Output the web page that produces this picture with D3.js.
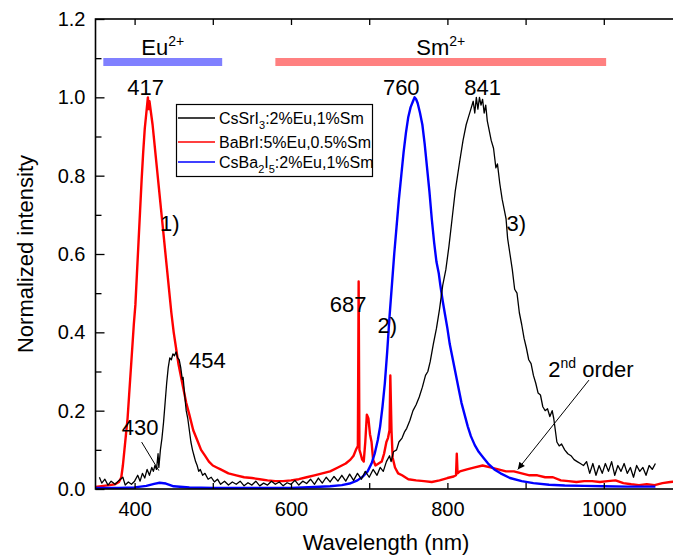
<!DOCTYPE html>
<html><head><meta charset="utf-8">
<script src="https://cdn.jsdelivr.net/npm/d3@7"></script>
<style>
body{margin:0;background:#fff;overflow:hidden}
svg{display:block;font-family:"Liberation Sans",Arial,Helvetica,sans-serif}
</style>
</head><body>
<svg id="chart" width="673" height="555"></svg>
<script>
// ---- data ----
const xMajorTicks = [400, 600, 800, 1000];
const xMinorTicks = [500, 700, 900, 1100];
const yMajorTicks = [0, 0.2, 0.4, 0.6, 0.8, 1.0, 1.2];
const yMinorTicks = [0.1, 0.3, 0.5, 0.7, 0.9, 1.1];

const seriesNames = ["CsSrI3:2%Eu,1%Sm", "BaBrI:5%Eu,0.5%Sm", "CsBa2I5:2%Eu,1%Sm"];
const seriesColors = ["#000000", "#ff0000", "#0000ff"];

// CsSrI3:2%Eu,1%Sm  [wavelength nm, normalized intensity]
const csSrI3 = [
[355,0.03],[358,0.015],[362,0.025],[366,0.01],[370,0.02],[375,0.012],[380,0.022],[385,0.03],[388,0.01],[392,0.018],
[396,0.012],[400,0.02],[404,0.035],[407,0.02],[410,0.04],[413,0.028],[416,0.05],[419,0.035],[422,0.055],[424,0.045],
[426,0.06],[428,0.05],[430,0.09],[431,0.055],[433,0.1],[435,0.13],[437,0.17],[439,0.22],[441,0.27],[443,0.31],
[445,0.335],[447,0.33],[449,0.345],[451,0.34],[453,0.35],[455,0.335],[457,0.33],[459,0.31],[461,0.28],[462,0.285],
[464,0.24],[466,0.2],[468,0.18],[470,0.15],[472,0.12],[474,0.1],[476,0.085],[478,0.07],[480,0.06],[482,0.045],
[484,0.05],[487,0.035],[490,0.04],[494,0.025],[498,0.03],[502,0.018],[506,0.025],[510,0.012],[515,0.02],[520,0.01],
[525,0.018],[530,0.012],[535,0.02],[540,0.008],[545,0.016],[550,0.01],[555,0.02],[560,0.008],[565,0.015],[570,0.01],
[575,0.02],[580,0.012],[585,0.018],[590,0.008],[595,0.016],[600,0.012],[605,0.022],[610,0.01],[615,0.02],[620,0.014],
[625,0.025],[630,0.012],[635,0.028],[640,0.015],[645,0.03],[650,0.018],[655,0.032],[660,0.02],[665,0.035],[670,0.02],
[675,0.038],[680,0.022],[685,0.04],[690,0.025],[695,0.045],[700,0.03],[705,0.05],[710,0.035],[714,0.055],[718,0.045],
[722,0.07],[726,0.085],[728,0.07],[731,0.095],[735,0.1],[738,0.12],[742,0.13],[745,0.145],[748,0.155],[752,0.175],
[756,0.2],[760,0.215],[764,0.235],[768,0.26],[772,0.29],[775,0.3],[778,0.325],[782,0.37],[786,0.41],[790,0.46],
[794,0.52],[798,0.56],[802,0.62],[806,0.69],[810,0.76],[813,0.8],[816,0.84],[820,0.89],[824,0.93],[827,0.95],
[830,0.97],[833,0.99],[835,0.96],[837,1.0],[839,0.97],[841,1.0],[843,0.98],[845,0.995],[847,0.96],[849,0.98],
[851,0.94],[853,0.92],[856,0.89],[859,0.87],[862,0.82],[864,0.83],[867,0.78],[870,0.74],[873,0.71],[875,0.69],
[877,0.64],[880,0.6],[883,0.56],[886,0.51],[889,0.5],[892,0.45],[895,0.42],[898,0.385],[901,0.36],[904,0.33],
[907,0.32],[910,0.29],[913,0.27],[916,0.245],[919,0.24],[922,0.21],[925,0.2],[928,0.205],[931,0.185],[934,0.2],
[936,0.18],[938,0.15],[940,0.12],[943,0.11],[946,0.115],[950,0.1],[954,0.09],[958,0.085],[962,0.075],[966,0.07],
[970,0.065],[974,0.06],[978,0.07],[982,0.04],[986,0.065],[990,0.035],[994,0.06],[998,0.04],[1002,0.065],[1006,0.045],
[1010,0.07],[1014,0.035],[1018,0.06],[1022,0.045],[1026,0.065],[1030,0.04],[1034,0.055],[1038,0.03],[1042,0.06],[1046,0.045],
[1050,0.055],[1054,0.035],[1058,0.06],[1062,0.05],[1066,0.065]
];

// BaBrI:5%Eu,0.5%Sm
const baBrI = [
[350,0.005],[360,0.008],[368,0.01],[375,0.012],[380,0.018],[383,0.03],[385,0.06],[387,0.1],[389,0.14],[391,0.18],
[393,0.24],[395,0.3],[397,0.36],[399,0.42],[401,0.47],[403,0.55],[405,0.63],[407,0.71],[409,0.79],[411,0.86],
[413,0.92],[415,0.96],[417,1.0],[418,0.97],[419,0.99],[421,0.96],[423,0.93],[425,0.89],[427,0.85],[429,0.81],
[431,0.77],[433,0.73],[435,0.69],[437,0.65],[439,0.61],[441,0.57],[443,0.53],[445,0.49],[447,0.45],[450,0.4],
[453,0.36],[456,0.32],[459,0.29],[462,0.26],[466,0.22],[470,0.19],[475,0.15],[480,0.125],[485,0.1],[490,0.085],
[495,0.07],[500,0.06],[505,0.055],[510,0.05],[515,0.045],[520,0.04],[530,0.035],[540,0.03],[550,0.028],[560,0.025],
[570,0.022],[580,0.02],[590,0.02],[600,0.022],[610,0.025],[620,0.03],[630,0.035],[640,0.04],[650,0.045],[660,0.055],
[670,0.065],[676,0.075],[680,0.085],[683,0.1],[685.5,0.11],[686.5,0.53],[687.5,0.1],[689,0.09],[691,0.075],[693,0.07],
[695,0.12],[697,0.19],[699,0.18],[701,0.14],[703,0.12],[705,0.075],[708,0.06],[712,0.065],[716,0.07],[719,0.09],
[722,0.12],[724,0.13],[726,0.15],[727,0.29],[728.5,0.15],[730,0.08],[733,0.055],[737,0.04],[742,0.035],[750,0.025],
[760,0.022],[770,0.02],[780,0.018],[790,0.022],[800,0.028],[808,0.032],[811,0.035],[812,0.09],[813,0.04],[816,0.045],
[825,0.05],[835,0.055],[845,0.06],[855,0.055],[865,0.05],[875,0.045],[885,0.045],[895,0.04],[905,0.035],[915,0.035],
[925,0.03],[935,0.03],[945,0.022],[955,0.02],[965,0.018],[975,0.02],[985,0.02],[995,0.018],[1005,0.02],[1015,0.022],
[1025,0.015],[1035,0.012],[1045,0.01],[1055,0.012],[1065,0.01],[1075,0.015],[1085,0.018],[1095,0.02],[1100,0.02]
];

// CsBa2I5:2%Eu,1%Sm
const csBa2I5 = [
[350,0.003],[380,0.003],[400,0.004],[415,0.008],[425,0.013],[432,0.016],[440,0.014],[450,0.007],[470,0.004],[500,0.003],
[550,0.003],[600,0.003],[630,0.005],[650,0.007],[665,0.01],[675,0.014],[685,0.022],[692,0.032],[698,0.045],[703,0.065],
[707,0.09],[711,0.125],[714,0.16],[717,0.21],[720,0.27],[723,0.35],[726,0.44],[729,0.52],[732,0.6],[735,0.67],
[738,0.74],[741,0.8],[744,0.86],[747,0.91],[750,0.95],[753,0.975],[756,0.99],[758,1.0],[760,0.995],[762,0.985],
[765,0.96],[768,0.93],[771,0.88],[774,0.82],[777,0.76],[780,0.69],[783,0.63],[786,0.58],[789,0.55],[791,0.52],
[794,0.48],[797,0.445],[800,0.41],[803,0.37],[806,0.34],[810,0.3],[814,0.26],[818,0.22],[822,0.19],[826,0.16],
[830,0.135],[835,0.112],[840,0.095],[846,0.08],[852,0.065],[860,0.05],[868,0.04],[880,0.028],[895,0.02],[910,0.015],
[930,0.011],[950,0.009],[975,0.008],[1000,0.007],[1030,0.006],[1060,0.006],[1066,0.006]
];

// emission range bars
const rangeLabels = ["Eu", "Sm"];
const rangeStart = [360, 580];
const rangeEnd = [512, 1003];
const rangeLevel = 1.09;
const rangeColors = ["#8080ff", "#ff8080"];

// peak annotations: text, wavelength, intensity
const annoText = ["417", "760", "841", "1)", "2)", "3)", "687", "454", "430"];
const annoX = [414, 741, 845, 445, 723, 888, 673, 493, 407];
const annoY = [1.005, 1.005, 1.005, 0.66, 0.398, 0.66, 0.452, 0.309, 0.138];

// ---- drawing ----
const W = 673, H = 555;
const margin = {left: 95.5, top: 19, right: 682, bottom: 489};
const x = d3.scaleLinear().domain([350, 1100]).range([margin.left, margin.right]);
const y = d3.scaleLinear().domain([0, 1.2]).range([margin.bottom, margin.top]);

const svg = d3.select("#chart");
svg.append("defs").append("clipPath").attr("id", "plot")
  .append("rect").attr("x", margin.left).attr("y", margin.top)
  .attr("width", margin.right - margin.left).attr("height", margin.bottom - margin.top);
const marker = svg.select("defs").append("marker").attr("id", "arrow")
  .attr("viewBox", "0 0 10 10").attr("refX", 10).attr("refY", 5)
  .attr("markerWidth", 9).attr("markerHeight", 7).attr("orient", "auto").attr("markerUnits", "userSpaceOnUse");
marker.append("path").attr("d", "M0,0 L10,5 L0,10 z").attr("fill", "#000");

const line = d3.line().x(d => x(d[0])).y(d => y(d[1]));
const plot = svg.append("g").attr("clip-path", "url(#plot)");
plot.append("path").datum(baBrI).attr("d", line).attr("fill", "none")
  .attr("stroke", seriesColors[1]).attr("stroke-width", 2.4).attr("stroke-linejoin", "round");
plot.append("path").datum(csBa2I5).attr("d", line).attr("fill", "none")
  .attr("stroke", seriesColors[2]).attr("stroke-width", 2.4).attr("stroke-linejoin", "round");
plot.append("path").datum(csSrI3).attr("d", line).attr("fill", "none")
  .attr("stroke", seriesColors[0]).attr("stroke-width", 1.3).attr("stroke-linejoin", "round");

// axes (inward ticks)
function styleAxis(g) {
  g.select(".domain").remove();
  g.selectAll(".tick line").attr("stroke", "#000").attr("stroke-width", 1.3);
  g.selectAll(".tick text").attr("fill", "#000").attr("font-size", 20)
    .attr("font-family", '"Liberation Sans",Arial,sans-serif');
}
svg.append("g").attr("transform", `translate(${margin.left},0)`)
  .call(d3.axisLeft(y).tickValues(yMajorTicks).tickSize(-9).tickPadding(10).tickFormat(d3.format(".1f"))).call(styleAxis);
svg.append("g").attr("transform", `translate(${margin.left},0)`)
  .call(d3.axisLeft(y).tickValues(yMinorTicks).tickSize(-6).tickFormat("")).call(styleAxis);
svg.append("g").attr("transform", `translate(${margin.right},0)`)
  .call(d3.axisRight(y).tickValues(yMajorTicks).tickSize(-9).tickFormat("")).call(styleAxis);
svg.append("g").attr("transform", `translate(${margin.right},0)`)
  .call(d3.axisRight(y).tickValues(yMinorTicks).tickSize(-6).tickFormat("")).call(styleAxis);
svg.append("g").attr("transform", `translate(0,${margin.bottom})`)
  .call(d3.axisBottom(x).tickValues(xMajorTicks).tickSize(-6).tickPadding(13).tickFormat(d3.format("d"))).call(styleAxis);
svg.append("g").attr("transform", `translate(0,${margin.bottom})`)
  .call(d3.axisBottom(x).tickValues(xMinorTicks).tickSize(-6).tickFormat("")).call(styleAxis);
svg.append("g").attr("transform", `translate(0,${margin.top})`)
  .call(d3.axisTop(x).tickValues(xMajorTicks.concat(xMinorTicks)).tickSize(-6).tickFormat("")).call(styleAxis);

svg.append("rect").attr("x", margin.left).attr("y", margin.top)
  .attr("width", margin.right - margin.left).attr("height", margin.bottom - margin.top)
  .attr("fill", "none").attr("stroke", "#000").attr("stroke-width", 1.6);

// axis titles
svg.append("text").attr("x", 386).attr("y", 550).attr("text-anchor", "middle")
  .attr("font-size", 22).text("Wavelength (nm)");
svg.append("text").attr("transform", `translate(33,${(margin.top + margin.bottom) / 2}) rotate(-90)`)
  .attr("text-anchor", "middle").attr("font-size", 22).text("Normalized intensity");

// range bars with labels
rangeLabels.forEach((lab, i) => {
  svg.append("line").attr("x1", x(rangeStart[i])).attr("x2", x(rangeEnd[i]))
    .attr("y1", y(rangeLevel)).attr("y2", y(rangeLevel))
    .attr("stroke", rangeColors[i]).attr("stroke-width", 8);
  const t = svg.append("text").attr("x", (x(rangeStart[i]) + x(rangeEnd[i])) / 2).attr("y", y(rangeLevel) - 7)
    .attr("text-anchor", "middle").attr("font-size", 22);
  t.append("tspan").text(lab);
  t.append("tspan").attr("dy", -9).attr("font-size", 14).text("2+");
});

// peak annotations
annoText.forEach((s, i) => {
  svg.append("text").attr("x", x(annoX[i])).attr("y", y(annoY[i]))
    .attr("text-anchor", "middle").attr("font-size", 22).text(s);
});
// 430 pointer
svg.append("line").attr("x1", x(409)).attr("y1", y(0.13) + 4).attr("x2", x(431)).attr("y2", y(0.047))
  .attr("stroke", "#000").attr("stroke-width", 1);

// 2nd order
const so = svg.append("text").attr("x", x(929)).attr("y", y(0.286)).attr("font-size", 22);
so.append("tspan").text("2");
so.append("tspan").attr("dy", -9).attr("font-size", 14).text("nd");
so.append("tspan").attr("dy", 9).text(" order");
svg.append("line").attr("x1", x(981)).attr("y1", y(0.278)).attr("x2", x(890)).attr("y2", y(0.05))
  .attr("stroke", "#000").attr("stroke-width", 1).attr("marker-end", "url(#arrow)");

// legend
const lg = svg.append("g");
lg.append("rect").attr("x", 176.5).attr("y", 104.5).attr("width", 196).attr("height", 72)
  .attr("fill", "#fff").attr("stroke", "#000").attr("stroke-width", 1.2);
const legRowY = [118, 142, 162];
const legParts = [
  [["CsSrI", 0], ["3", 1], [":2%Eu,1%Sm", 0]],
  [["BaBrI:5%Eu,0.5%Sm", 0]],
  [["CsBa", 0], ["2", 1], ["I", 0], ["5", 1], [":2%Eu,1%Sm", 0]]
];
seriesNames.forEach((name, i) => {
  lg.append("line").attr("x1", 178).attr("x2", 215).attr("y1", legRowY[i]).attr("y2", legRowY[i])
    .attr("stroke", seriesColors[i]).attr("stroke-width", 1.3);
  const t = lg.append("text").attr("x", 219).attr("y", legRowY[i] + 6).attr("font-size", 16);
  let sub = false;
  legParts[i].forEach(([s, isSub]) => {
    const ts = t.append("tspan").text(s);
    if (isSub && !sub) { ts.attr("dy", 5).attr("font-size", 11); sub = true; }
    else if (isSub && sub) { ts.attr("font-size", 11); }
    else if (!isSub && sub) { ts.attr("dy", -5); sub = false; }
  });
});
</script>
</body></html>
